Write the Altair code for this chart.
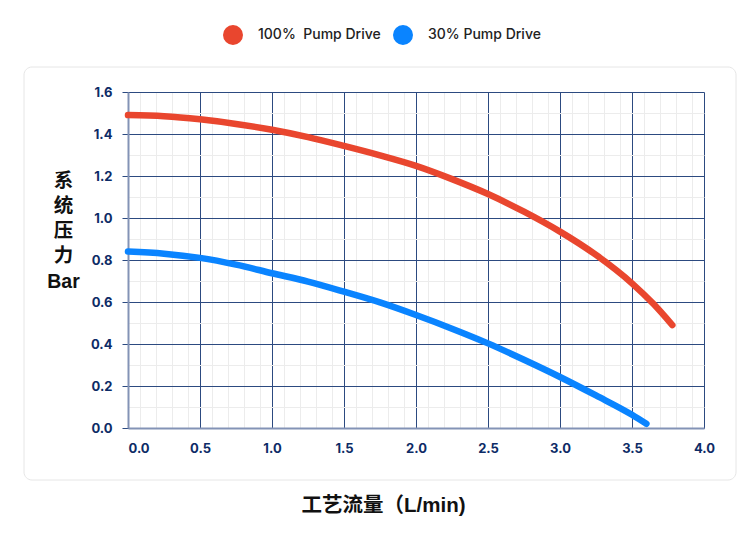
import altair as alt
import pandas as pd

# ---- data ----
flow_100 = [0.0, 0.25, 0.5, 0.75, 1.0, 1.25, 1.5, 1.75, 2.0, 2.25, 2.5, 2.75, 3.0, 3.25, 3.5, 3.65, 3.78]
press_100 = [1.49, 1.485, 1.47, 1.448, 1.42, 1.385, 1.343, 1.298, 1.248, 1.185, 1.114, 1.03, 0.935, 0.824, 0.689, 0.59, 0.49]

flow_30 = [0.0, 0.25, 0.5, 0.75, 1.0, 1.25, 1.5, 1.75, 2.0, 2.25, 2.5, 2.75, 3.0, 3.25, 3.5, 3.6]
press_30 = [0.84, 0.83, 0.81, 0.778, 0.737, 0.697, 0.649, 0.598, 0.538, 0.473, 0.403, 0.325, 0.243, 0.155, 0.063, 0.02]

series_names = ["100%\u00a0 Pump Drive", "30% Pump Drive"]
series_colors = ["#e9462e", "#0a84ff"]

x_major = [0.0, 0.5, 1.0, 1.5, 2.0, 2.5, 3.0, 3.5, 4.0]
x_minor_offsets = [0.083, 0.194, 0.306, 0.417]
y_values = [0.0, 0.1, 0.2, 0.3, 0.4, 0.5, 0.6, 0.7, 0.8, 0.9, 1.0, 1.1, 1.2, 1.3, 1.4, 1.5, 1.6]

x_title = "工艺流量（L/min)"
y_title = ["系", "统", "压", "力", "Bar"]

# ---- build tables ----
df = pd.concat([
    pd.DataFrame({"flow": flow_100, "pressure": press_100, "series": series_names[0]}),
    pd.DataFrame({"flow": flow_30, "pressure": press_30, "series": series_names[1]}),
], ignore_index=True)

x_values = sorted(set(x_major + [round(a + o, 3) for a in x_major[:-1] for o in x_minor_offsets]))

NAVY = "#2c4a80"
MINOR = "#ececec"
LABEL = "#0d2b66"
DOMAIN = "#8393b6"
LABEL_FONT = "Inter"
TITLE_FONT = "Liberation Sans, Noto Sans CJK SC"

major_x = "abs(datum.value * 2 - round(datum.value * 2)) < 0.000001"
major_y = "abs(datum.value * 5 - round(datum.value * 5)) < 0.000001"

x_axis = alt.Axis(
    values=x_values,
    title=x_title,
    grid=True,
    gridColor=alt.condition(major_x, alt.value(NAVY), alt.value(MINOR)),
    gridWidth=1,
    ticks=False,
    tickSize=0,
    domainColor=DOMAIN,
    domainWidth=2,
    labelExpr=f"({major_x}) ? format(datum.value, '.1f') : ''",
    labelAlign=alt.condition("datum.value === 0", alt.value("left"), alt.value("center")),
    labelBaseline="top",
    labelFont=LABEL_FONT,
    labelFontSize=13,
    labelFontWeight="bold",
    labelColor=LABEL,
    labelPadding=14,
    labelOverlap=False,
    labelFlush=False,
    titleX=255,
    titleY=77,
    titleAlign="center",
    titleBaseline="middle",
    titleFont=TITLE_FONT,
    titleFontSize=20.5,
    titleFontWeight="bold",
    titleColor="#111111",
)

y_axis = alt.Axis(
    values=y_values,
    title=y_title,
    titleAngle=0,
    titleX=-65,
    titleY=88,
    titleAlign="center",
    titleBaseline="middle",
    titleLineHeight=25.3,
    titleFont=TITLE_FONT,
    titleFontSize=19.5,
    titleFontWeight="bold",
    titleColor="#111111",
    grid=True,
    gridColor=alt.condition(major_y, alt.value(NAVY), alt.value(MINOR)),
    gridWidth=1,
    tickColor=alt.condition(major_y, alt.value(NAVY), alt.value("transparent")),
    tickSize=6,
    tickWidth=1,
    domainColor=DOMAIN,
    domainWidth=2,
    labelExpr=f"({major_y}) ? format(datum.value, '.1f') : ''",
    labelFont=LABEL_FONT,
    labelFontSize=13,
    labelFontWeight="bold",
    labelColor=LABEL,
    labelPadding=10,
    labelOverlap=False,
    labelFlush=False,
)

legend = alt.Legend(
    title=None,
    orient="none",
    legendX=95,
    legendY=-67,
    direction="horizontal",
    symbolType="circle",
    symbolSize=100,
    symbolStrokeWidth=10,
    symbolOpacity=1,
    labelFont=LABEL_FONT,
    labelFontSize=14,
    labelFontWeight=500,
    labelColor="#222222",
    labelOffset=15,
    columnPadding=-3,
    padding=0,
)

card = alt.Chart(pd.DataFrame({"k": [0]})).mark_rect(
    fill="transparent", stroke="#e6e6e6", strokeWidth=1, cornerRadius=8
).encode(
    x=alt.value(-104), x2=alt.value(608), y=alt.value(-25), y2=alt.value(388)
)

lines = alt.Chart(df).mark_line(
    strokeCap="round", strokeJoin="round", interpolate="monotone"
).encode(
    x=alt.X("flow:Q", scale=alt.Scale(domain=[0, 4], nice=False, zero=False), axis=x_axis),
    y=alt.Y("pressure:Q", scale=alt.Scale(domain=[0, 1.6], nice=False), axis=y_axis),
    color=alt.Color("series:N", scale=alt.Scale(domain=series_names, range=series_colors), legend=legend),
    strokeWidth=alt.value(6.5),
)

chart = alt.layer(card, lines).properties(
    width=576,
    height=336,
    padding={"left": 120, "top": 84, "right": 40, "bottom": 100},
    autosize=alt.AutoSizeParams(type="none"),
    background="white",
).configure_view(stroke="transparent")

chart.save("out.html", embed_options={"renderer": "svg", "actions": False})
